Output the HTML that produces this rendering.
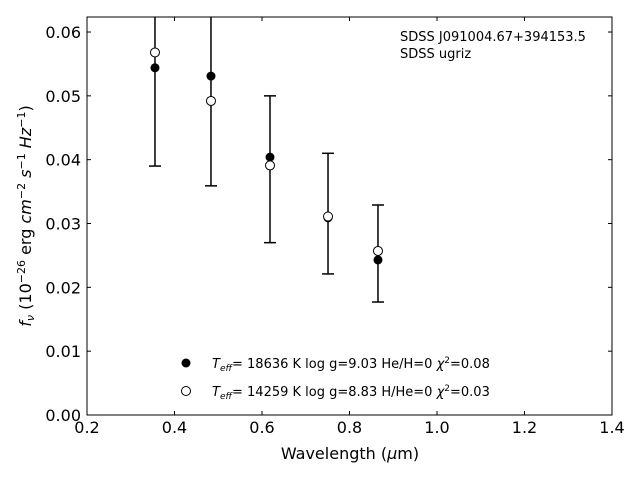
<!DOCTYPE html>
<html><head><meta charset="utf-8"><style>
body{margin:0;background:#fff}
svg{font-family:"DejaVu Sans","Liberation Sans",sans-serif}
</style></head><body>
<svg id="chart" width="640" height="480">
<defs><clipPath id="clip"><rect x="87" y="17" width="525" height="398"/></clipPath></defs>
<rect x="87" y="17" width="525" height="398" fill="none" stroke="#000" stroke-width="1"/>
<g id="xt"></g><g id="yt"></g>
<g id="marks" clip-path="url(#clip)"></g>
<text x="350" y="459" font-size="16" text-anchor="middle">Wavelength (<tspan font-style="italic">μ</tspan>m)</text>
<text transform="translate(31,216) rotate(-90)" font-size="16" text-anchor="middle"><tspan font-style="italic">f<tspan font-size="11" dy="3">ν</tspan></tspan><tspan dy="-3"> (10</tspan><tspan font-size="11" dy="-6">−26</tspan><tspan dy="6"> erg </tspan><tspan font-style="italic">cm</tspan><tspan font-size="11" dy="-6">−2</tspan><tspan dy="6" font-style="italic"> s</tspan><tspan font-size="11" dy="-6">−1</tspan><tspan dy="6" font-style="italic"> Hz</tspan><tspan font-size="11" dy="-6">−1</tspan><tspan dy="6">)</tspan></text>
<text x="400" y="41" font-size="13">SDSS J091004.67+394153.5</text>
<text x="400" y="58" font-size="13">SDSS ugriz</text>
<g>
<circle cx="186" cy="363" r="4.5" fill="#000"/>
<text x="212" y="368" font-size="13"><tspan font-style="italic">T</tspan><tspan font-size="9" dy="3" font-style="italic">eff</tspan><tspan dy="-3">= 18636 K  log g=9.03  He/H=0  </tspan><tspan font-style="italic">χ</tspan><tspan font-size="9" dy="-5">2</tspan><tspan dy="5">=0.08</tspan></text>
<circle cx="186" cy="391" r="4.5" fill="#fff" stroke="#000"/>
<text x="212" y="396" font-size="13"><tspan font-style="italic">T</tspan><tspan font-size="9" dy="3" font-style="italic">eff</tspan><tspan dy="-3">= 14259 K  log g=8.83  H/He=0  </tspan><tspan font-style="italic">χ</tspan><tspan font-size="9" dy="-5">2</tspan><tspan dy="5">=0.03</tspan></text>
</g>
</svg>
<script>
const wavelengths=[0.3554,0.4834,0.6183,0.7509,0.8651];
const fluxFilled=[0.0544,0.0531,0.0404,0.0309,0.0243];
const fluxOpen=[0.0568,0.0492,0.0391,0.0311,0.0257];
const errLow=[0.0390,0.0359,0.0270,0.0221,0.0177];
const errHigh=[0.0700,0.0700,0.0500,0.0410,0.0329];
const xTicks=[0.2,0.4,0.6,0.8,1.0,1.2,1.4];
const yTicks=[0,0.01,0.02,0.03,0.04,0.05,0.06];
const NS="http://www.w3.org/2000/svg";
const X=v=>87+(v-0.2)*437.5;
const Y=v=>415-v*6383;
function mk(tag,attrs,parent){const e=document.createElementNS(NS,tag);for(const k in attrs)e.setAttribute(k,attrs[k]);parent.appendChild(e);return e;}
const xt=document.getElementById('xt'),yt=document.getElementById('yt'),m=document.getElementById('marks');
xTicks.forEach(t=>{const x=X(t);
 const l=mk('line',{x1:x,x2:x,y1:415,y2:411,stroke:'#000'},xt);
 
 
 const l2=mk('line',{x1:x,x2:x,y1:17,y2:21,stroke:'#000'},xt);
 
 
 const tx=mk('text',{x:x,y:433,'font-size':16,'text-anchor':'middle'},xt);tx.textContent=t.toFixed(1);
 
 });
yTicks.forEach(t=>{const y=Y(t);
 const l=mk('line',{x1:87,x2:91,y1:y,y2:y,stroke:'#000'},yt);
 
 
 const l2=mk('line',{x1:608,x2:612,y1:y,y2:y,stroke:'#000'},yt);
 
 
 const tx=mk('text',{x:81,y:y+6,'font-size':16,'text-anchor':'end'},yt);tx.textContent=t.toFixed(2);
 
 });
wavelengths.forEach((w,i)=>{const x=X(w);
 const g=mk('g',{stroke:'#000','stroke-width':1.5},m);
 
 
 mk('line',{x1:x,x2:x,y1:Y(errLow[i]),y2:Y(errHigh[i])},g);
 mk('line',{x1:x-6,x2:x+6,y1:Y(errLow[i]),y2:Y(errLow[i])},g);
 mk('line',{x1:x-6,x2:x+6,y1:Y(errHigh[i]),y2:Y(errHigh[i])},g);
 const f=mk('circle',{cx:x,cy:Y(fluxFilled[i]),r:4.5,fill:'#000'},m);
 
 
 const o=mk('circle',{cx:x,cy:Y(fluxOpen[i]),r:4.5,fill:'#fff',stroke:'#000'},m);
 
 });
</script>
</body></html>
